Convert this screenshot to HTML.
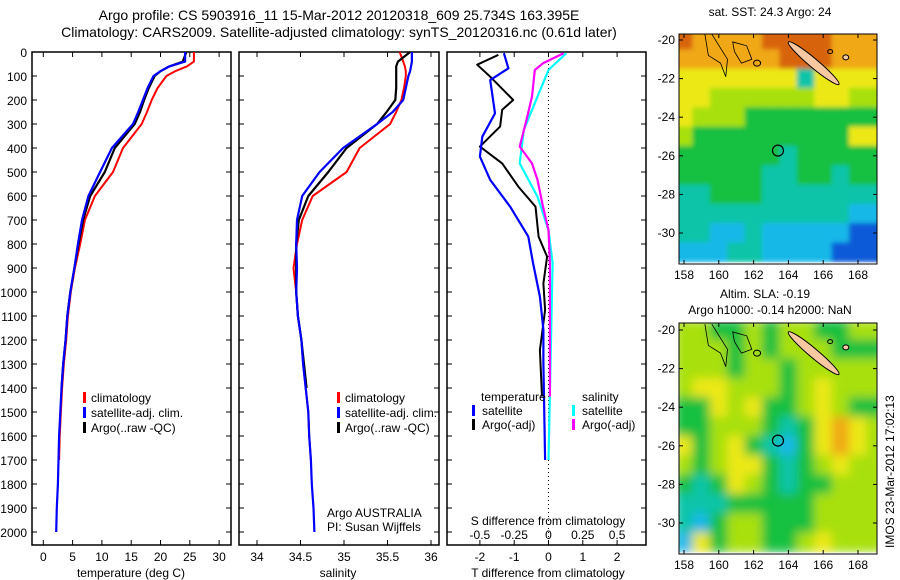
<!DOCTYPE html>
<html><head><meta charset="utf-8">
<style>
body{margin:0;background:#fff;}
svg{display:block;font-family:"Liberation Sans",sans-serif;}
text{fill:#000;}
</style></head>
<body>
<svg id="fig" width="900" height="580" viewBox="0 0 900 580">
<defs>
<filter id="soft" x="0" y="0" width="1" height="1"><feGaussianBlur stdDeviation="5" edgeMode="duplicate"/></filter>
<filter id="soft2" x="0" y="0" width="1" height="1"><feGaussianBlur stdDeviation="2.5" edgeMode="duplicate"/></filter>
</defs>
<text x="339" y="20" font-size="14" text-anchor="middle">Argo profile: CS 5903916_11 15-Mar-2012 20120318_609 25.734S 163.395E</text>
<text x="339" y="37" font-size="14" text-anchor="middle">Climatology: CARS2009. Satellite-adjusted climatology: synTS_20120316.nc (0.61d later)</text>
<g id="plots"></g>
<text x="770" y="16" font-size="12" text-anchor="middle">sat. SST: 24.3 Argo: 24</text>
<text x="765" y="298" font-size="12" text-anchor="middle">Altim. SLA: -0.19</text>
<text x="770" y="314" font-size="12" text-anchor="middle">Argo h1000: -0.14 h2000: NaN</text>
<text transform="translate(894,548) rotate(-90)" font-size="12">IMOS 23-Mar-2012 17:02:13</text>
</svg>
<script>
// ---- profile data ----
const depthP = [0,40,60,80,100,150,200,250,300,400,500,600,700,800,900,1000,1100,1200,1300,1400,1500,1600,1700,1800,1900,2000];
const climT = [25.7,25.7,24.5,22.5,21,19.5,18.5,17.7,16.8,13.6,11.9,8.8,7.1,6.3,5.4,4.7,4.2,3.9,3.5,3.2,3.0,2.8,2.7];
const satT  = [24.2,24.2,21.5,20,18.8,17.8,17,16.2,15.3,11.7,9.7,7.7,6.6,5.9,5.3,4.6,4.1,3.8,3.4,3.1,2.9,2.7,2.6,2.5,2.3,2.2];
const argoT = [24.4,23.8,21.5,20,19,18,17.2,16.5,15.6,12.2,10.5,8.0,6.8,6.0,5.3,4.6,4.1,3.8,3.4,3.1];
const climS = [35.64,35.68,35.70,35.71,35.71,35.69,35.66,35.6,35.53,35.18,35.03,34.64,34.52,34.46,34.42,34.45,34.47,34.51,34.53,34.56,34.59,34.6,34.62];
const satS  = [35.78,35.78,35.77,35.76,35.74,35.71,35.68,35.56,35.38,34.99,34.72,34.52,34.46,34.45,34.46,34.45,34.47,34.51,34.53,34.56,34.59,34.6,34.62,34.63,34.65,34.66];
const argoS = [35.76,35.62,35.6,35.6,35.6,35.6,35.59,35.49,35.38,35.03,34.82,34.59,34.48,34.45,34.45,34.45,34.47,34.51,34.54,34.57];
// ---- difference data ----
const dTsatDepth = [5,68,117,256,353,436,533,644,769,881,1019,1158,1297,1700];
const dTsat = [-1.3,-1.17,-1.7,-1.56,-1.93,-2.0,-1.7,-1.12,-0.59,-0.45,-0.25,-0.15,-0.15,-0.1];
const dTargoDepth = [12,53,103,200,241,311,394,464,561,644,769,853,964,1075,1242,1436];
const dTargo = [-1.46,-2.08,-1.7,-1.03,-1.35,-1.41,-2.0,-1.35,-0.88,-0.38,-0.29,-0.04,-0.15,-0.1,-0.25,-0.19];
const dSsatDepth = [5,75,186,325,464,603,742,881,1700];
const dSsat = [0.13,0,-0.08,-0.18,-0.21,-0.08,0,0.03,0];
const dSargoDepth = [5,47,75,186,283,394,464,533,644,742,881,1436];
const dSargo = [0.11,-0.04,-0.1,-0.12,-0.16,-0.21,-0.12,-0.08,-0.04,0,0.01,0.01];
// ---- axis ticks ----
const depthTicks = [0,100,200,300,400,500,600,700,800,900,1000,1100,1200,1300,1400,1500,1600,1700,1800,1900,2000];
const tTicks = [0,5,10,15,20,25,30];
const sTicks = [34,34.5,35,35.5,36];
const dTTicks = [-2,-1,0,1,2];
const dTLabels = ["-2","-1","0","1","2"];
const dSTicks = [-0.5,-0.25,0,0.25,0.5];
const dSLabels = ["-0.5","-0.25","0","0.25","0.5"];
// ---- map data (level indices 0..7) ----
const sstGrid = [
[7,6,6,6,6,7,7,7,7,6,6,6],
[6,6,6,6,6,6,7,7,7,6,6,6],
[5,5,5,5,5,5,5,2,5,5,5,5],
[5,5,4,4,4,4,4,4,5,5,4,4],
[5,4,4,4,3,3,3,3,3,3,3,3],
[4,3,3,3,3,3,3,3,3,3,5,5],
[3,3,3,3,3,3,2,3,3,3,3,3],
[3,3,3,3,3,2,2,3,3,2,3,3],
[2,2,3,3,3,2,2,2,2,2,2,2],
[2,2,2,2,2,2,2,2,2,2,1,1],
[2,2,1,1,2,1,1,1,1,1,0,0],
[1,1,1,2,2,1,1,1,1,0,0,0]];
const slaGrid = [
[4,4,3,3,4,3,4,4,3,3,4,4],
[4,4,4,3,4,3,4,4,4,3,3,3],
[4,4,4,3,4,4,3,4,4,4,4,4],
[4,5,5,4,4,4,3,4,5,4,4,4],
[3,3,5,4,5,3,3,4,5,4,3,3],
[3,3,4,4,4,3,2,3,5,6,5,4],
[5,3,4,5,3,2,1,3,5,6,5,4],
[4,3,4,5,5,3,2,3,4,5,4,4],
[3,2,3,5,4,3,2,3,3,4,4,4],
[2,2,2,3,3,3,3,3,4,4,4,4],
[2,1,3,4,4,3,3,3,4,4,4,4],
[1,5,3,4,4,3,3,4,5,4,4,4]];
const levelColors = ["#0a5ad8","#18b8e8","#10c4a8","#14c040","#a8e010","#ece818","#f0a818","#d86410"];
const mapLons = [158,160,162,164,166,168];
const mapLats = [-20,-22,-24,-26,-28,-30];
const argoLon = 163.4, argoLat = -25.73;

const NS = "http://www.w3.org/2000/svg";
const root = document.getElementById("plots");
function mk(tag, attrs, parent){const e=document.createElementNS(NS,tag);for(const k in attrs)e.setAttribute(k,attrs[k]);(parent||root).appendChild(e);return e;}

const yTop=52, yPerM=0.24, boxTop=52, boxBot=545;
const yD = d => yTop + d*yPerM;

function frame(x0,x1,name){
  const r=mk("rect",{x:x0,y:boxTop,width:x1-x0,height:boxBot-boxTop,fill:"none",stroke:"#000","stroke-width":1.5});
  
  
  depthTicks.forEach(d=>{
    mk("line",{x1:x0,x2:x0+5,y1:yD(d),y2:yD(d),stroke:"#000"});
    mk("line",{x1:x1-5,x2:x1,y1:yD(d),y2:yD(d),stroke:"#000"});
  });
}
function xTicks(vals,labels,xf,x0,name){
  vals.forEach((v,i)=>{
    mk("line",{x1:xf(v),x2:xf(v),y1:boxBot,y2:boxBot-5,stroke:"#000"});
    mk("line",{x1:xf(v),x2:xf(v),y1:boxTop,y2:boxTop+5,stroke:"#000"});
    const t=mk("text",{x:xf(v),y:561,"font-size":12,"text-anchor":"middle"});
    t.textContent=labels[i];
    
    
  });
}
function line(xs,ds,xf,color,w,name){
  const pts=xs.map((v,i)=>xf(v).toFixed(1)+","+yD(ds[i]).toFixed(1)).join(" ");
  const p=mk("polyline",{points:pts,fill:"none",stroke:color,"stroke-width":w,"stroke-linejoin":"round"});
  
  
}
function txt(x,y,s,name,size,anchor){
  const t=mk("text",{x:x,y:y,"font-size":size||12,"text-anchor":anchor||"start"});
  t.textContent=s;
  
  
  return t;
}
function legendMark(x,y,color,name){
  const r=mk("rect",{x:x,y:y-10,width:3,height:11,fill:color});
  
  
}

// Panel 1: temperature
const xT = v => 43.3 + v*5.86;
frame(32,231,"temperature-plot-frame");
depthTicks.forEach(d=>{txt(27,yD(d)+5,String(d),"depth-tick-label",12,"end");});
xTicks(tTicks,tTicks.map(String),xT,32,"temperature");
txt(131,577,"temperature (deg C)","temperature-axis-title",12,"middle");
line(climT,depthP.slice(0,climT.length),xT,"#f00",2,"temp-climatology-line");
line(argoT,depthP.slice(0,argoT.length),xT,"#000",2.2,"temp-argo-line");
line(satT,depthP,xT,"#00f",2.2,"temp-satellite-line");
legendMark(83,402,"#f00","legend-climatology-mark");txt(91,402,"climatology","legend-climatology");
legendMark(83,417,"#00f","legend-satellite-mark");txt(91,417,"satellite-adj. clim.","legend-satellite");
legendMark(83,432,"#000","legend-argo-mark");txt(91,432,"Argo(..raw -QC)","legend-argo");

// Panel 2: salinity
const xS = v => 257 + (v-34)*87;
frame(239,439,"salinity-plot-frame");
xTicks(sTicks,sTicks.map(String),xS,239,"salinity");
txt(338,577,"salinity","salinity-axis-title",12,"middle");
line(climS,depthP.slice(0,climS.length),xS,"#f00",2,"sal-climatology-line");
line(argoS,depthP.slice(0,argoS.length),xS,"#000",2.2,"sal-argo-line");
line(satS,depthP,xS,"#00f",2.2,"sal-satellite-line");
legendMark(337,402,"#f00","legend2-climatology-mark");txt(345,402,"climatology","legend2-climatology");
legendMark(337,417,"#00f","legend2-satellite-mark");txt(345,417,"satellite-adj. clim.","legend2-satellite");
legendMark(337,432,"#000","legend2-argo-mark");txt(345,432,"Argo(..raw -QC)","legend2-argo");
txt(327,517,"Argo AUSTRALIA","argo-australia-label");
txt(327,531,"PI: Susan Wijffels","pi-label");

// Panel 3: differences
const xDT = v => 548.5 + v*34.3;
const xDS = v => 548.5 + v*137.2;
frame(447,646,"difference-plot-frame");
mk("line",{x1:548.5,x2:548.5,y1:boxTop,y2:boxBot,stroke:"#000","stroke-dasharray":"1,3"});
xTicks(dTTicks,dTLabels,xDT,447,"t-diff");
dSTicks.forEach((v,i)=>{txt(xDS(v),539,dSLabels[i],"s-diff-tick-label",12,"middle");});
txt(548,525,"S difference from climatology","s-diff-axis-title",12,"middle");
txt(548,577,"T difference from climatology","t-diff-axis-title",12,"middle");
line(dSsat,dSsatDepth,xDS,"#0ff",2.2,"sdiff-satellite-line");
line(dSargo,dSargoDepth,xDS,"#f0f",2.2,"sdiff-argo-line");
line(dTargo,dTargoDepth,xDT,"#000",2,"tdiff-argo-line");
line(dTsat,dTsatDepth,xDT,"#00f",2.2,"tdiff-satellite-line");
txt(481,401,"temperature","legend3-temperature-header");
legendMark(472,415,"#00f","legend3-tsat-mark");txt(482,415,"satellite","legend3-tsat");
legendMark(472,429,"#000","legend3-targo-mark");txt(482,429,"Argo(-adj)","legend3-targo");
txt(582,401,"salinity","legend3-salinity-header");
legendMark(572,415,"#0ff","legend3-ssat-mark");txt(582,415,"satellite","legend3-ssat");
legendMark(572,429,"#f0f","legend3-sargo-mark");txt(582,429,"Argo(-adj)","legend3-sargo");

// Maps
function drawMap(grid,top,bot,lat20y,lat30y,name,filt){
  const x0=679,x1=877;
  const lonX = lon => 684 + (lon-158)*17.4;
  const latY = lat => lat20y + (-20-lat)*(lat30y-lat20y)/10;
  const g=mk("g",{});
  
  
  const clip=mk("clipPath",{id:name+"-clip"},g);
  mk("rect",{x:x0,y:top,width:x1-x0,height:bot-top},clip);
  const cg=mk("g",{"clip-path":"url(#"+name+"-clip)"},g);
  const cells=mk("g",{filter:"url(#"+filt+")"},cg);
  grid.forEach((row,ri)=>row.forEach((v,ci)=>{
    const lon=157.5+ci, lat=-19.5-ri;
    const c=mk("rect",{x:lonX(lon)-0.3,y:latY(lat)-0.3,width:17.4+0.6,height:(lat30y-lat20y)/10+0.6,fill:levelColors[v]},cells);
    
    
  }));
  // coast outlines
  mk("path",{d:`M${lonX(159.2)},${latY(-19.7)} L${lonX(159.4)},${latY(-20.8)} L${lonX(160.1)},${latY(-21.2)} L${lonX(160.4)},${latY(-21.9)} L${lonX(160.5)},${latY(-21.0)} L${lonX(159.6)},${latY(-19.7)}`,fill:"none",stroke:"#000","stroke-width":0.8},cg);
  mk("path",{d:`M${lonX(160.8)},${latY(-20.1)} L${lonX(161.6)},${latY(-20.3)} L${lonX(161.9)},${latY(-21)} L${lonX(161.3)},${latY(-21.2)} L${lonX(160.9)},${latY(-20.6)} Z`,fill:"none",stroke:"#000","stroke-width":0.8},cg);
  mk("ellipse",{cx:lonX(162.2),cy:latY(-21.2),rx:3.5,ry:3,fill:"none",stroke:"#000"},cg);
  const nc=mk("ellipse",{cx:lonX(165.45),cy:latY(-21.2),rx:33,ry:4.5,transform:`rotate(40 ${lonX(165.45)} ${latY(-21.2)})`,fill:"#f8c8a0",stroke:"#000"},cg);
  
  
  mk("ellipse",{cx:lonX(167.3),cy:latY(-20.9),rx:3,ry:2.5,fill:"#f8c8a0",stroke:"#000"},cg);
  mk("ellipse",{cx:lonX(166.4),cy:latY(-20.6),rx:2.5,ry:2,fill:"none",stroke:"#000"},cg);
  const ac=mk("circle",{cx:lonX(argoLon),cy:latY(argoLat),r:5.5,fill:"none",stroke:"#000","stroke-width":1.2},cg);
  
  
  mk("rect",{x:x0,y:top,width:x1-x0,height:bot-top,fill:"none",stroke:"#000"},g);
  mapLons.forEach(l=>{
    mk("line",{x1:lonX(l),x2:lonX(l),y1:bot,y2:bot-4,stroke:"#000"},g);
    mk("line",{x1:lonX(l),x2:lonX(l),y1:top,y2:top+4,stroke:"#000"},g);
    const t=mk("text",{x:lonX(l),y:bot+15,"font-size":12,"text-anchor":"middle"},g);t.textContent=String(l);
  });
  mapLats.forEach(l=>{
    mk("line",{x1:x0,x2:x0+4,y1:latY(l),y2:latY(l),stroke:"#000"},g);
    mk("line",{x1:x1-4,x2:x1,y1:latY(l),y2:latY(l),stroke:"#000"},g);
    const t=mk("text",{x:x0-4,y:latY(l)+4,"font-size":12,"text-anchor":"end"},g);t.textContent=String(l);
  });
}
drawMap(sstGrid,34,264,40,233,"sst-map","soft2");
drawMap(slaGrid,323,554,330,523,"sla-map","soft");
</script>
</body></html>
